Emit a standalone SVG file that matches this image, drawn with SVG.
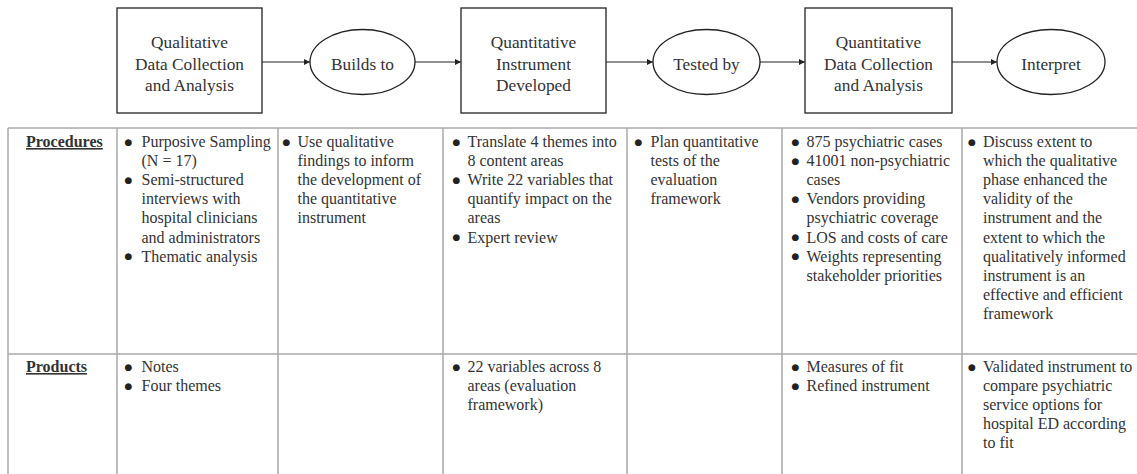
<svg xmlns="http://www.w3.org/2000/svg" width="1137" height="474" viewBox="0 0 1137 474">
<defs>
<style>
.box{fill:#fff;stroke:#222;stroke-width:1.3}
.ell{fill:#fff;stroke:#222;stroke-width:1.3}
.nt{font-family:"Liberation Serif","Times New Roman",serif;font-size:17.3px;fill:#333;text-anchor:middle}
.grid{stroke:#a8a8a8;stroke-width:1.5;fill:none}
.ct{font-family:"Liberation Serif","Times New Roman",serif;font-size:16px;fill:#333}
.b{font-family:"DejaVu Sans",sans-serif;font-size:9px;fill:#222}
.hd{font-family:"Liberation Serif","Times New Roman",serif;font-size:16px;font-weight:bold;fill:#333;text-decoration:underline}
.conn{stroke:#222;stroke-width:1.2;fill:none}
</style>
<marker id="arr" viewBox="0 0 10 10" refX="10" refY="5" markerWidth="7" markerHeight="6" markerUnits="userSpaceOnUse" orient="auto">
<path d="M0,0 L10,5 L0,10 z" fill="#222"/>
</marker>
</defs>
<rect width="1137" height="474" fill="#fff"/>

<g id="connectors">
<line class="conn" x1="262" y1="62" x2="310" y2="62" marker-end="url(#arr)"/>
<line class="conn" x1="415" y1="62" x2="461" y2="62" marker-end="url(#arr)"/>
<line class="conn" x1="606" y1="62" x2="653" y2="62" marker-end="url(#arr)"/>
<line class="conn" x1="760" y1="62" x2="805" y2="62" marker-end="url(#arr)"/>
<line class="conn" x1="952" y1="62" x2="997" y2="62" marker-end="url(#arr)"/>
</g>

<g id="n1">
<rect class="box" x="117" y="8" width="145" height="105"/>
<text class="nt" x="189.5" y="48">Qualitative</text>
<text class="nt" x="189.5" y="69.5">Data Collection</text>
<text class="nt" x="189.5" y="91">and Analysis</text>
</g>
<g id="n2">
<ellipse class="ell" cx="362.5" cy="62" rx="52.5" ry="32.5"/>
<text class="nt" x="362.5" y="69.5">Builds to</text>
</g>
<g id="n3">
<rect class="box" x="461" y="8" width="145" height="105"/>
<text class="nt" x="533.5" y="48">Quantitative</text>
<text class="nt" x="533.5" y="69.5">Instrument</text>
<text class="nt" x="533.5" y="91">Developed</text>
</g>
<g id="n4">
<ellipse class="ell" cx="706.5" cy="62" rx="53.5" ry="32.5"/>
<text class="nt" x="706.5" y="69.5">Tested by</text>
</g>
<g id="n5">
<rect class="box" x="805" y="8" width="147" height="105"/>
<text class="nt" x="878.5" y="48">Quantitative</text>
<text class="nt" x="878.5" y="69.5">Data Collection</text>
<text class="nt" x="878.5" y="91">and Analysis</text>
</g>
<g id="n6">
<ellipse class="ell" cx="1051" cy="62" rx="54" ry="32.5"/>
<text class="nt" x="1051" y="69.5">Interpret</text>
</g>

<g id="table">
<line class="grid" x1="8" y1="128" x2="1137" y2="128"/>
<line class="grid" x1="8" y1="354" x2="1137" y2="354"/>
<line class="grid" x1="8" y1="128" x2="8" y2="474"/>
<line class="grid" x1="117" y1="128" x2="117" y2="474"/>
<line class="grid" x1="278" y1="128" x2="278" y2="474"/>
<line class="grid" x1="443" y1="128" x2="443" y2="474"/>
<line class="grid" x1="627" y1="128" x2="627" y2="474"/>
<line class="grid" x1="782" y1="128" x2="782" y2="474"/>
<line class="grid" x1="962" y1="128" x2="962" y2="474"/>

<text class="hd" x="26" y="147">Procedures</text>
<text class="hd" x="26" y="372">Products</text>

<g class="b" transform="translate(0,-1.5)">
<text x="124.5" y="146">●</text><text x="124.5" y="184.2">●</text><text x="124.5" y="260.6">●</text>
<text x="282.5" y="146">●</text>
<text x="452.5" y="146">●</text><text x="452.5" y="184.2">●</text><text x="452.5" y="241.5">●</text>
<text x="634.5" y="146">●</text>
<text x="791.5" y="146">●</text><text x="791.5" y="165.1">●</text><text x="791.5" y="203.3">●</text><text x="791.5" y="241.5">●</text><text x="791.5" y="260.6">●</text>
<text x="968" y="146">●</text>
<text x="124.5" y="371">●</text><text x="124.5" y="390.1">●</text>
<text x="452.5" y="371">●</text>
<text x="791.5" y="371">●</text><text x="791.5" y="390.1">●</text>
<text x="968" y="371">●</text>
</g>

<text class="ct">
<tspan x="141.5" y="147">Purposive Sampling</tspan>
<tspan x="141.5" y="166.1">(N = 17)</tspan>
<tspan x="141.5" y="185.2">Semi-structured</tspan>
<tspan x="141.5" y="204.3">interviews with</tspan>
<tspan x="141.5" y="223.4">hospital clinicians</tspan>
<tspan x="141.5" y="242.5">and administrators</tspan>
<tspan x="141.5" y="261.6">Thematic analysis</tspan>
</text>
<text class="ct">
<tspan x="297.5" y="147">Use qualitative</tspan>
<tspan x="297.5" y="166.1">findings to inform</tspan>
<tspan x="297.5" y="185.2">the development of</tspan>
<tspan x="297.5" y="204.3">the quantitative</tspan>
<tspan x="297.5" y="223.4">instrument</tspan>
</text>
<text class="ct">
<tspan x="467.5" y="147">Translate 4 themes into</tspan>
<tspan x="467.5" y="166.1">8 content areas</tspan>
<tspan x="467.5" y="185.2">Write 22 variables that</tspan>
<tspan x="467.5" y="204.3">quantify impact on the</tspan>
<tspan x="467.5" y="223.4">areas</tspan>
<tspan x="467.5" y="242.5">Expert review</tspan>
</text>
<text class="ct">
<tspan x="650.5" y="147">Plan quantitative</tspan>
<tspan x="650.5" y="166.1">tests of the</tspan>
<tspan x="650.5" y="185.2">evaluation</tspan>
<tspan x="650.5" y="204.3">framework</tspan>
</text>
<text class="ct">
<tspan x="806.5" y="147">875 psychiatric cases</tspan>
<tspan x="806.5" y="166.1">41001 non-psychiatric</tspan>
<tspan x="806.5" y="185.2">cases</tspan>
<tspan x="806.5" y="204.3">Vendors providing</tspan>
<tspan x="806.5" y="223.4">psychiatric coverage</tspan>
<tspan x="806.5" y="242.5">LOS and costs of care</tspan>
<tspan x="806.5" y="261.6">Weights representing</tspan>
<tspan x="806.5" y="280.7">stakeholder priorities</tspan>
</text>
<text class="ct">
<tspan x="983" y="147">Discuss extent to</tspan>
<tspan x="983" y="166.1">which the qualitative</tspan>
<tspan x="983" y="185.2">phase enhanced the</tspan>
<tspan x="983" y="204.3">validity of the</tspan>
<tspan x="983" y="223.4">instrument and the</tspan>
<tspan x="983" y="242.5">extent to which the</tspan>
<tspan x="983" y="261.6">qualitatively informed</tspan>
<tspan x="983" y="280.7">instrument is an</tspan>
<tspan x="983" y="299.8">effective and efficient</tspan>
<tspan x="983" y="318.9">framework</tspan>
</text>

<text class="ct">
<tspan x="141.5" y="372">Notes</tspan>
<tspan x="141.5" y="391.1">Four themes</tspan>
</text>
<text class="ct">
<tspan x="467.5" y="372">22 variables across 8</tspan>
<tspan x="467.5" y="391.1">areas (evaluation</tspan>
<tspan x="467.5" y="410.2">framework)</tspan>
</text>
<text class="ct">
<tspan x="806.5" y="372">Measures of fit</tspan>
<tspan x="806.5" y="391.1">Refined instrument</tspan>
</text>
<text class="ct">
<tspan x="983" y="372">Validated instrument to</tspan>
<tspan x="983" y="391.1">compare psychiatric</tspan>
<tspan x="983" y="410.2">service options for</tspan>
<tspan x="983" y="429.3">hospital ED according</tspan>
<tspan x="983" y="448.4">to fit</tspan>
</text>
</g>
</svg>
